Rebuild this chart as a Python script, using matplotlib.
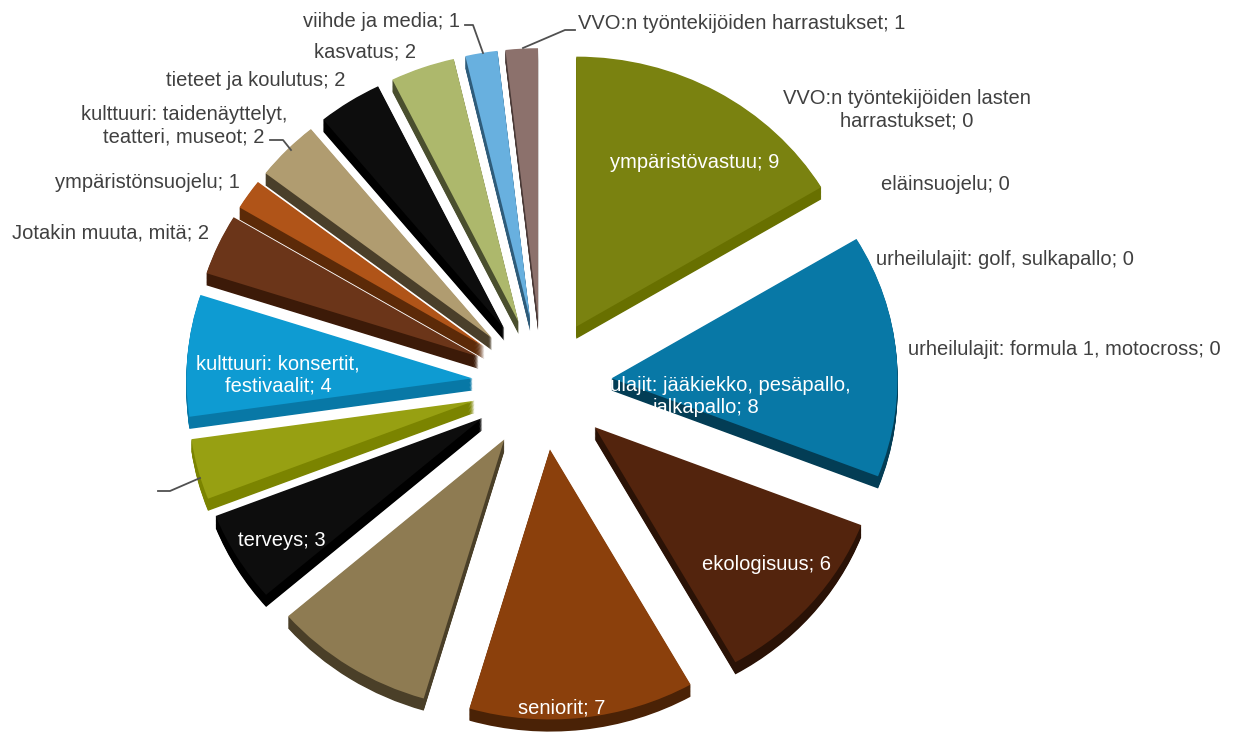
import matplotlib.pyplot as plt
import numpy as np

plt.rcParams['font.family'] = ['Liberation Sans', 'DejaVu Sans']

# Kohteet myötäpäivään kello 12:sta alkaen
kohteet = ['ympäristövastuu', 'VVO:n työntekijöiden lasten\nharrastukset', 'eläinsuojelu',
           'urheilulajit: golf, sulkapallo', 'urheilulajit: formula 1, motocross',
           'urheilulajit: jääkiekko, pesäpallo,\njalkapallo', 'ekologisuus', 'seniorit',
           'lapset ja nuoret', 'terveys', 'liikunta', 'kulttuuri: konsertit,\nfestivaalit',
           'Jotakin muuta, mitä', 'ympäristönsuojelu', 'kulttuuri: taidenäyttelyt,\nteatteri, museot',
           'tieteet ja koulutus', 'kasvatus', 'viihde ja media', 'VVO:n työntekijöiden harrastukset']
arvot = [9, 0, 0, 0, 0, 8, 6, 7, 5, 3, 2, 4, 2, 1, 2, 2, 2, 1, 1]

varit = ['#7a8210', '#ffffff', '#ffffff', '#ffffff', '#ffffff', '#0878a6', '#53240d', '#8b400c',
         '#8e7b52', '#0d0d0d', '#97a012', '#0e9bd2', '#6b3519', '#b05418', '#b09c70',
         '#0d0d0d', '#adb86c', '#68b0df', '#8c716c']
sivuvarit = ['#687000', '#ffffff', '#ffffff', '#ffffff', '#ffffff', '#033d55', '#2a1206', '#4a2206',
             '#4a3f28', '#000000', '#7b8400', '#0878a6', '#3c1a08', '#5c2a08', '#4a3f2a',
             '#000000', '#4a4f2e', '#2f5c7a', '#4a3a37']

W, H = 1240, 737
cx, cy = 542, 384          # keskipiste pikseleinä (y ylhäältä)
rx, ry = 286, 270          # säteet pikseleinä
erotus = [0.244] * len(arvot)

fig = plt.figure(figsize=(W / 100, H / 100), dpi=100)
ax = fig.add_axes([0, 0, 1, 1])


def px(x, y):
    # pikselikoordinaatit -> akselin koordinaatit
    return (x - cx) / rx, (cy - y) / ry


# kolmiulotteinen reuna: tummemmat kerrokset alaspäin siirrettyinä
for d in np.linspace(0.045, 0.003, 15):
    ax.pie(arvot, explode=erotus, colors=sivuvarit, startangle=90, counterclock=False,
           center=(0, -d), radius=1, frame=True, wedgeprops=dict(linewidth=0))
ax.pie(arvot, explode=erotus, colors=varit, startangle=90, counterclock=False,
       center=(0, 0), radius=1, frame=True, wedgeprops=dict(linewidth=0))

ax.set_aspect('auto')
ax.set_xlim(-cx / rx, (W - cx) / rx)
ax.set_ylim(-(H - cy) / ry, cy / ry)
ax.axis('off')

fs = 14.5
harmaa = '#404040'

# sektorien sisällä olevat otsikot
sisaiset = {0: (695, 163), 5: (706, 397), 6: (766, 565), 7: (562, 708),
            9: (282, 540), 11: (278, 375)}
for i, (x, y) in sisaiset.items():
    ax.text(*px(x, y), f'{kohteet[i]}; {arvot[i]}', color='white', fontsize=fs,
            ha='center', va='center', linespacing=1.2)

# ulkopuoliset otsikot
ulkoiset = {1: (907, 110, 'center'), 2: (945, 185, 'center'), 3: (1005, 260, 'center'),
            4: (1064, 350, 'center'), 12: (111, 233, 'center'), 13: (147, 183, 'center'),
            14: (184, 126, 'center'), 15: (256, 81, 'center'), 16: (365, 52, 'center'),
            17: (460, 22, 'right'), 18: (578, 24, 'left')}
for i, (x, y, ha) in ulkoiset.items():
    ax.text(*px(x, y), f'{kohteet[i]}; {arvot[i]}', color=harmaa, fontsize=fs,
            ha=ha, va='center', linespacing=1.2)

# valkoiset otsikot valkoisella taustalla
for i, (x, y) in {8: (268, 702), 10: (80, 488)}.items():
    ax.text(*px(x, y), f'{kohteet[i]}; {arvot[i]}', color='white', fontsize=fs,
            ha='center', va='center')

# ohjausviivat
viivat = [[(465, 25), (473, 25), (483, 53)],
          [(575, 30), (565, 30), (523, 48)],
          [(270, 140), (283, 140), (291, 150)],
          [(158, 491), (170, 491), (200, 478)]]
for v in viivat:
    xs, ys = zip(*[px(x, y) for x, y in v])
    ax.plot(xs, ys, color='#505050', linewidth=1.3)

fig.savefig('out.png', dpi=100)
